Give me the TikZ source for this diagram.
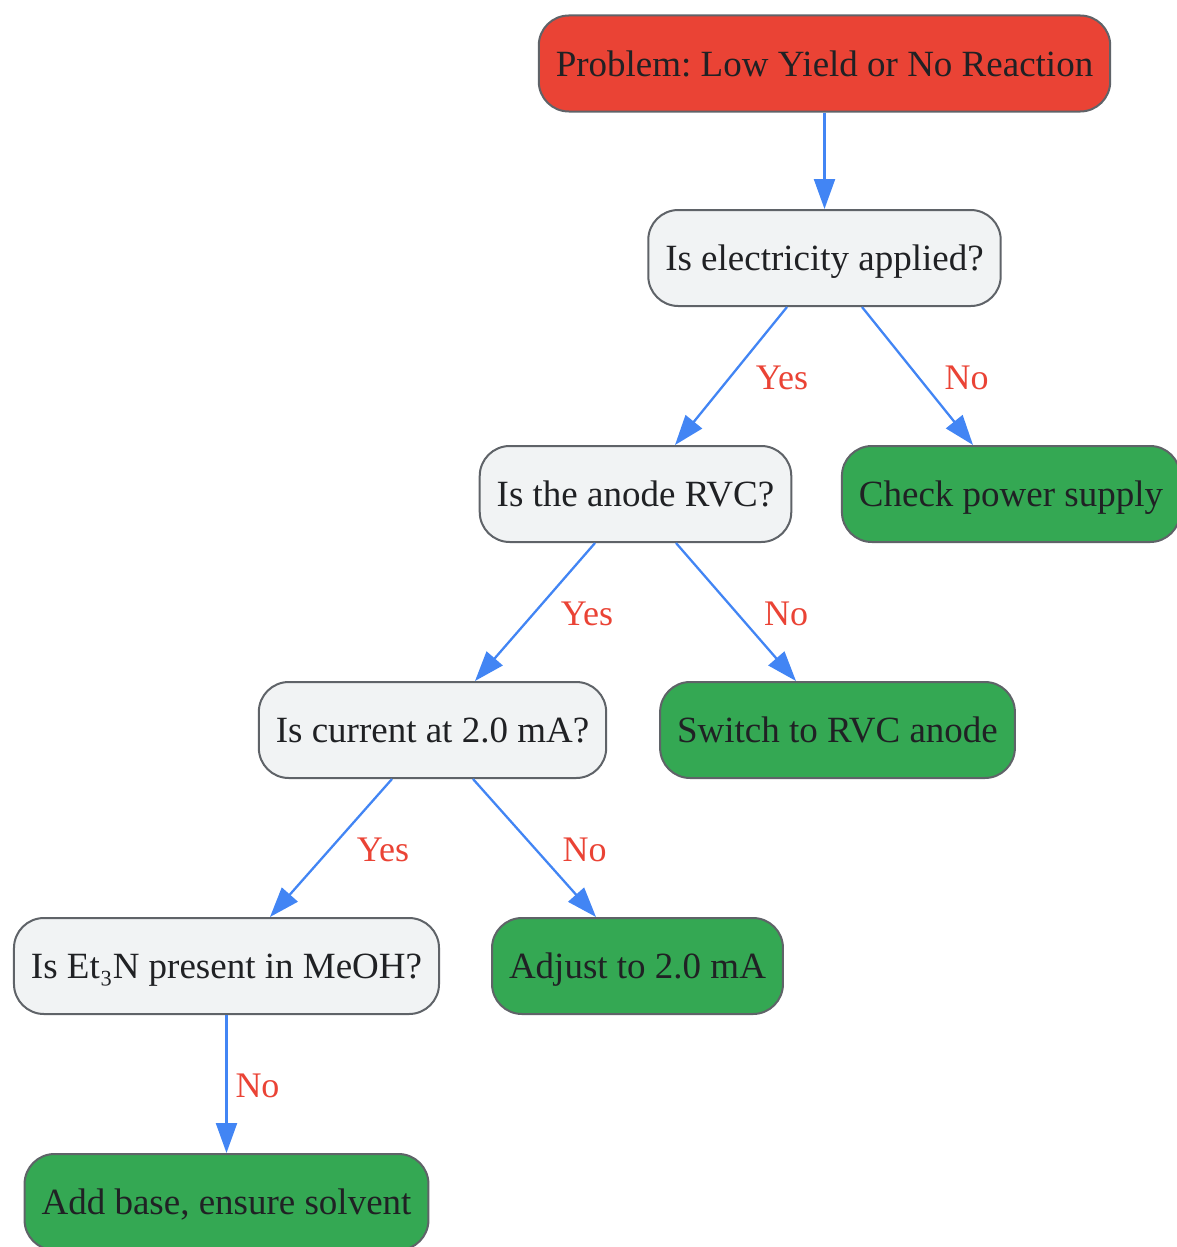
\documentclass[tikz,border=0pt]{standalone}
\usepackage{fontspec}
\setmainfont{Liberation Serif}
\usetikzlibrary{arrows.meta}
\definecolor{nodeborder}{HTML}{5F6368}
\definecolor{probred}{HTML}{EA4335}
\definecolor{qgray}{HTML}{F1F3F4}
\definecolor{actgreen}{HTML}{34A853}
\definecolor{edgeblue}{HTML}{4285F4}
\definecolor{txtdark}{HTML}{202124}
\frenchspacing
\tikzset{
  box/.style={draw=nodeborder, line width=2pt, rounded corners=30pt, minimum height=96pt,
    inner xsep=17pt, text height=30pt, text depth=4.5pt, text=txtdark,
    font=\fontsize{37}{44}\selectfont},
  problem/.style={box, fill=probred},
  question/.style={box, fill=qgray},
  action/.style={box, fill=actgreen},
  conn/.style={draw=edgeblue, line width=2.3pt, -{Triangle[length=30pt,width=21pt]}},
  lbl/.style={text=probred, font=\fontsize{36}{42}\selectfont}
}
\begin{document}
\begin{tikzpicture}[x=1pt,y=-1pt]
\useasboundingbox (0,0) rectangle (1177,1247);
\clip (0,0) rectangle (1177,1247);
\node[problem]  (p)  at (824.5,63.5) {Problem: Low Yield or No Reaction};
\node[question] (q1) at (824.5,258)  {Is electricity applied?};
\node[question] (q2) at (635.5,494)  {Is the anode RVC?};
\node[action]   (a1) at (1011,494)   {Check power supply};
\node[question] (q3) at (432.5,730)  {Is current at 2.0 mA?};
\node[action]   (a2) at (837.5,730)  {Switch to RVC anode};
\node[question] (q4) at (226.5,966)  {Is Et₃N present in MeOH?};
\node[action]   (a3) at (637.5,966)  {Adjust to 2.0 mA};
\node[action]   (a4) at (226.5,1202) {Add base, ensure solvent};

\draw[conn] (p.south) -- (q1.north);
\draw[conn] ([xshift=-37.5pt]q1.south) -- node[lbl, midway, xshift=51pt, yshift=-2pt]{Yes} ([xshift=39.5pt]q2.north);
\draw[conn] ([xshift=37.5pt]q1.south) -- node[lbl, midway, xshift=49pt, yshift=-2pt]{No} ([xshift=-38pt]a1.north);
\draw[conn] ([xshift=-40.5pt]q2.south) -- node[lbl, midway, xshift=52pt, yshift=-2pt]{Yes} ([xshift=42.5pt]q3.north);
\draw[conn] ([xshift=40.5pt]q2.south) -- node[lbl, midway, xshift=50pt, yshift=-2pt]{No} ([xshift=-41.5pt]a2.north);
\draw[conn] ([xshift=-40.5pt]q3.south) -- node[lbl, midway, xshift=52pt, yshift=-2pt]{Yes} ([xshift=43.5pt]q4.north);
\draw[conn] ([xshift=40.5pt]q3.south) -- node[lbl, midway, xshift=50pt, yshift=-2pt]{No} ([xshift=-41.5pt]a3.north);
\draw[conn] (q4.south) -- node[lbl, midway, xshift=31pt, yshift=-2pt]{No} (a4.north);
\end{tikzpicture}
\end{document}
